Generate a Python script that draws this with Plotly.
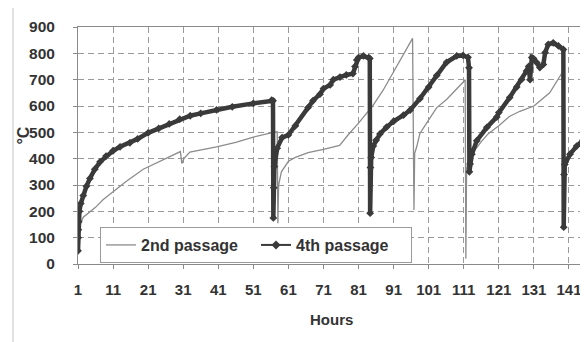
import plotly.graph_objects as go

# ---- data (hours, temperature °C) ----
hours_2nd = [1, 1.6, 2.5, 4.4, 6, 8.2, 11, 14.9, 19.6, 23.4, 27.2, 30.2, 30.6, 31.2, 32.9,
             36, 40.5, 46, 51, 56.7, 57.8, 58, 58.2, 59, 61, 63, 66.6, 71, 75.6, 78, 81,
             85, 88, 91, 94, 96.4, 96.8, 97, 97.6, 98.5, 101, 103.3, 106.1, 109, 110.8,
             111.4, 111.6, 111.8, 112.5, 114, 116, 118, 121, 124, 127, 131, 135.5, 139, 139.3]
temp_2nd = [110, 150, 178, 200, 215, 245, 275, 315, 360, 385, 410, 427, 382, 400, 425,
            432, 445, 462, 482, 500, 502, 155, 300, 350, 390, 405, 423, 435, 450, 490, 535,
            600, 660, 730, 800, 857, 205, 420, 446, 496, 547, 594, 625, 663, 690,
            700, 20, 360, 400, 430, 465, 495, 525, 560, 580, 600, 650, 725, 735]

hours_4th = [1, 1.05, 1.1, 1.2, 1.4, 1.8, 2.5, 3.4, 4.4, 5.8, 7.3, 9, 11, 13, 15.8, 18, 21,
             24, 27, 30, 33, 36, 40.5, 45, 51, 56.2, 56.6, 56.7, 56.8, 57.0, 57.8, 59.2,
             61, 63, 66.6, 68, 70, 71, 72.9, 73.8, 75.7, 77.5, 79.4, 80, 80.5, 81, 82.4,
             83.9, 84.2, 84.3, 84.4, 84.6, 85.2, 86, 87.1, 89, 91, 93.8, 95.7, 98.5, 101,
             103.3, 106.1, 109, 110.8, 112.2, 112.5, 112.6, 112.8, 113.3, 114.7, 117.6,
             120.4, 121, 124.1, 126.1, 127.5, 128.9, 129.5, 129.9, 130.4, 130.9, 131.8,
             132.7, 133.7, 134.2, 135.1, 136.5, 138, 139.4, 139.5, 139.6, 139.8, 141.3,
             143.2, 145]
temp_4th = [50, 100, 130, 160, 200, 230, 260, 295, 325, 360, 388, 410, 430, 445, 460, 475, 498,
            515, 532, 550, 563, 572, 585, 597, 610, 622, 620, 175, 290, 370, 440, 480,
            490, 525, 594, 620, 645, 666, 680, 700, 710, 718, 723, 750, 775, 784, 790,
            784, 780, 193, 366, 404, 448, 470, 494, 520, 542, 565, 584, 628, 672,
            716, 766, 790, 792, 785, 745, 350, 380, 417, 468, 519,
            558, 575, 632, 672, 701, 733, 750, 700, 784, 780, 765,
            746, 758, 803, 834, 840, 828, 815, 140, 340, 378, 417,
            448, 470]

x_tick_vals = [1, 11, 21, 31, 41, 51, 61, 71, 81, 91, 101, 111, 121, 131, 141]
y_tick_vals = [0, 100, 200, 300, 400, 500, 600, 700, 800, 900]

FONT = "Arial, 'Liberation Sans', sans-serif"
TXT = "#333333"

fig = go.Figure()
fig.add_trace(go.Scatter(x=hours_2nd, y=temp_2nd, mode="lines", name="2nd passage",
                         line=dict(color="#8c8c8c", width=1.3)))
fig.add_trace(go.Scatter(x=hours_4th, y=temp_4th, mode="lines+markers", showlegend=False,
                         line=dict(color="#3a3a3a", width=4.5),
                         marker=dict(symbol="diamond", size=6, color="#3a3a3a")))
fig.add_trace(go.Scatter(x=[None], y=[None], mode="lines+markers", name="4th passage",
                         line=dict(color="#3a3a3a", width=2),
                         marker=dict(symbol="diamond", size=7, color="#3a3a3a")))

# page body has an 8px margin: figure is offset by (8, 8)
fig.update_layout(
    width=580, height=334,
    margin=dict(l=70, r=5, t=19, b=78),
    paper_bgcolor="white", plot_bgcolor="white",
    font=dict(family=FONT, color=TXT, size=15),
    legend=dict(orientation="h", x=0.0436, y=0.156, xanchor="left", yanchor="top",
                bgcolor="white", bordercolor="#9a9a9a", borderwidth=1,
                font=dict(family=FONT, size=16, color=TXT, weight="bold"),
                entrywidth=110, entrywidthmode="pixels"),
    xaxis=dict(range=[1, 145], tickvals=x_tick_vals, ticktext=[str(v) for v in x_tick_vals],
               showgrid=True, gridcolor="#9a9a9a", griddash="6px,4px", gridwidth=1,
               showline=True, linecolor="#8a8a8a", mirror=True, linewidth=1,
               ticks="outside", ticklen=4, tickcolor="#8a8a8a",
               tickfont=dict(family=FONT, size=15, color=TXT, weight="bold"),
               ticklabelstandoff=8, zeroline=False),
    yaxis=dict(range=[0, 900], tickvals=y_tick_vals,
               showgrid=True, gridcolor="#9a9a9a", griddash="6px,4px", gridwidth=1,
               showline=True, linecolor="#8a8a8a", mirror=True, linewidth=1,
               ticks="outside", ticklen=4, tickcolor="#8a8a8a",
               tickfont=dict(family=FONT, size=15.5, color=TXT, weight="bold"),
               ticklabelstandoff=15, zeroline=False),
    annotations=[
        dict(text="°C", x=-0.108, y=0.544, xref="paper", yref="paper", showarrow=False,
             xanchor="center", yanchor="middle",
             textangle=-90, font=dict(family=FONT, size=16, color=TXT, weight="bold")),
        dict(text="Hours", x=0.501, y=-0.236, xref="paper", yref="paper", showarrow=False,
             xanchor="center", yanchor="middle",
             font=dict(family=FONT, size=15, color=TXT, weight="bold")),
    ],
    shapes=[dict(type="rect", xref="paper", yref="paper",
                 x0=(13 - 78) / 505, x1=(586 - 78) / 505,
                 y0=(264 - 345) / 237, y1=(264 - 7) / 237,
                 line=dict(color="#c4c4c4", width=1), layer="below")],
)

fig.write_html("out.html")
